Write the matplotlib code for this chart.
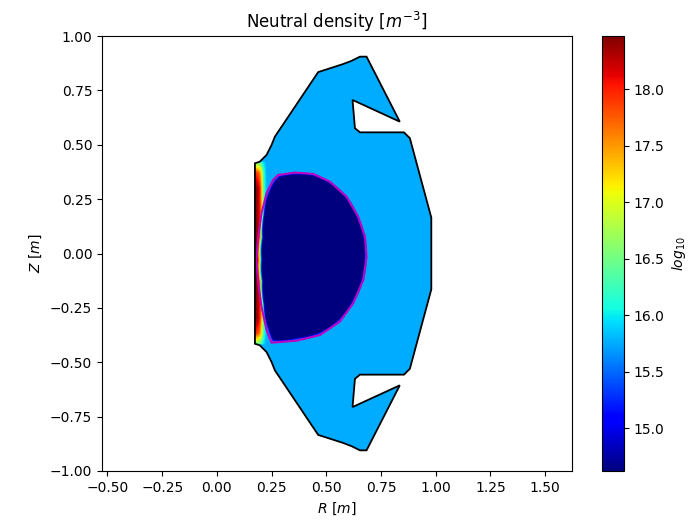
import numpy as np
import matplotlib
matplotlib.use("Agg")
import matplotlib.pyplot as plt
from matplotlib.patches import Polygon

# ---------------------------------------------------------
# Geometry (metres)
# ---------------------------------------------------------
# first wall, upper half, inner midplane corner -> outer midplane
WALL_R_UP = [0.174, 0.196, 0.227, 0.250, 0.265, 0.463, 0.577, 0.616, 0.654,
             0.684, 0.836, 0.620, 0.631, 0.654, 0.855, 0.882, 0.980]
WALL_Z_UP = [0.415, 0.422, 0.453, 0.499, 0.537, 0.834, 0.871, 0.886, 0.905,
             0.905, 0.606, 0.706, 0.576, 0.557, 0.557, 0.530, 0.165]

# separatrix
SEP_R = [0.280, 0.357, 0.440, 0.517, 0.593, 0.646, 0.677, 0.684, 0.669, 0.623,
         0.562, 0.471, 0.364, 0.250, 0.227, 0.204, 0.189, 0.181, 0.189, 0.204,
         0.227, 0.257]
SEP_Z = [0.361, 0.372, 0.366, 0.330, 0.261, 0.169, 0.077, -0.015, -0.122, -0.229,
         -0.313, -0.375, -0.401, -0.410, -0.352, -0.245, -0.137, -0.030, 0.077, 0.185,
         0.277, 0.338]
AXIS_R, AXIS_Z = 0.43, -0.02

# ---------------------------------------------------------
# log10 neutral density profiles
# ---------------------------------------------------------
LOG_BG = 15.75                       # main chamber level
WALL_DIST = [0.0, 0.010, 0.020, 0.028, 0.036, 0.050]   # distance from inner wall
WALL_LOG = [18.45, 18.35, 18.0, 17.3, 16.4, 15.75]
TAPER_Z = [-0.42, -0.37, -0.30, 0.30, 0.37, 0.42]      # source extent along Z
TAPER_W = [0.25, 0.8, 1.0, 1.0, 0.8, 0.25]
DEPTH = [0.0, 0.006, 0.012, 0.020, 0.030]              # depth inside separatrix
ATTEN = [0.0, 0.4, 1.0, 2.0, 4.0]
VMIN, VMAX = 14.62, 18.47

wall_r = np.array(WALL_R_UP + WALL_R_UP[::-1])
wall_z = np.array(WALL_Z_UP + [-z for z in WALL_Z_UP[::-1]])
R_WALL_IN = WALL_R_UP[0]

# ---------------------------------------------------------
# Build the density map
# ---------------------------------------------------------
r = np.arange(0.15, 1.0, 0.004)
z = np.arange(-0.95, 0.95, 0.004)
RR, ZZ = np.meshgrid(r, z)

d_wall = np.clip(RR - R_WALL_IN, 0, None)
taper = np.interp(ZZ, TAPER_Z, TAPER_W, left=0, right=0)
base = LOG_BG + (np.interp(d_wall, WALL_DIST, WALL_LOG) - LOG_BG) * taper

sep_r = np.array(SEP_R)
sep_z = np.array(SEP_Z)
sep_th = np.arctan2(sep_z - AXIS_Z, sep_r - AXIS_R)
sep_rad = np.hypot(sep_r - AXIS_R, sep_z - AXIS_Z)
order = np.argsort(sep_th)
th = np.arctan2(ZZ - AXIS_Z, RR - AXIS_R)
rb = np.interp(th, sep_th[order], sep_rad[order], period=2 * np.pi)
depth = rb - np.hypot(RR - AXIS_R, ZZ - AXIS_Z)
log_n = base - np.interp(depth, DEPTH, ATTEN, left=0)
log_n = np.clip(log_n, VMIN - 0.5, None)

# ---------------------------------------------------------
# Plot
# ---------------------------------------------------------
fig = plt.figure(figsize=(6.97, 5.30), dpi=100)
ax = fig.add_axes([102 / 697, 1 - 471 / 530, 470 / 697, 435 / 530])
cax = fig.add_axes([602 / 697, 1 - 471 / 530, 22 / 697, 435 / 530])

wall = Polygon(np.column_stack([wall_r, wall_z]), closed=True,
               facecolor="none", edgecolor="black", lw=1.3, zorder=3)
ax.add_patch(wall)

im = ax.imshow(log_n, origin="lower", extent=(r[0], r[-1], z[0], z[-1]),
               cmap="jet", vmin=VMIN, vmax=VMAX, interpolation="bilinear",
               aspect="auto", zorder=1)
im.set_clip_path(wall)

ax.plot(np.append(sep_r, sep_r[0]), np.append(sep_z, sep_z[0]),
        color="m", lw=1.5, zorder=2)

ax.set_xlim(-0.525, 1.623)
ax.set_ylim(-1, 1)
ax.set_xticks(np.arange(-0.5, 1.51, 0.25))
ax.set_yticks(np.arange(-1, 1.01, 0.25))
ax.set_xlabel("$R\\ [m]$")
ax.set_ylabel("$Z\\ [m]$")
ax.set_title("Neutral density [$m^{-3}$]")

cb = fig.colorbar(im, cax=cax)
cb.set_label("$log_{10}$")

fig.savefig("out.png", dpi=100)
